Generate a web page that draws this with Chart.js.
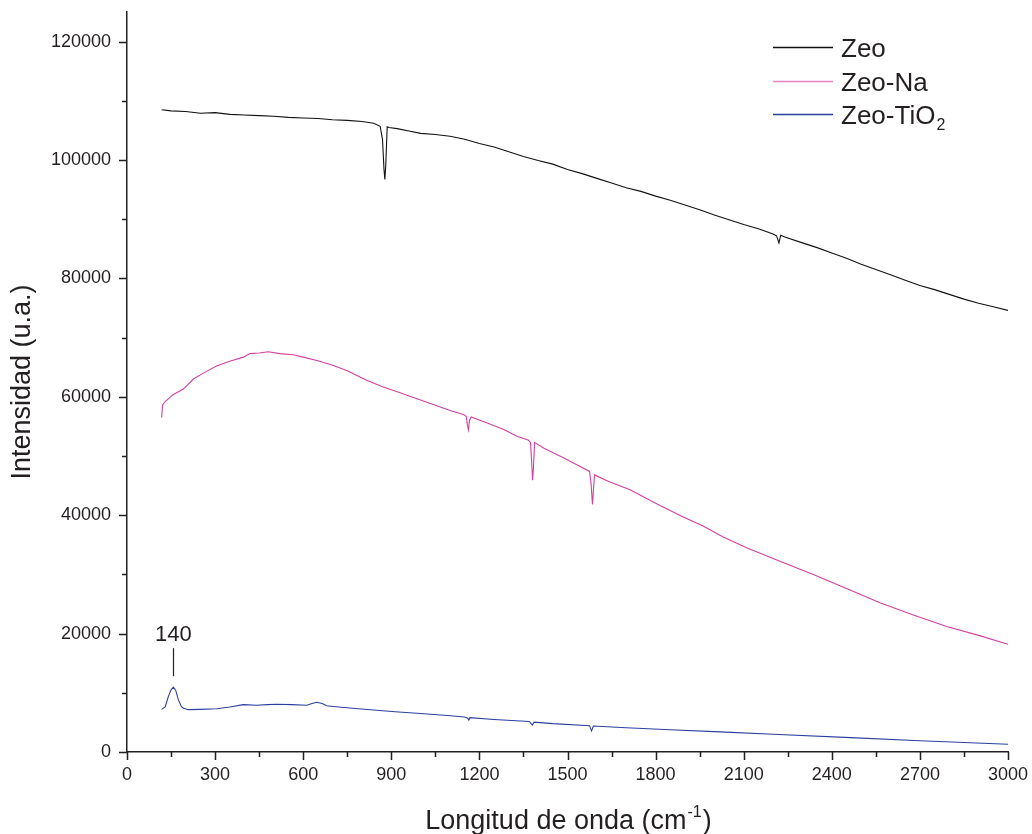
<!DOCTYPE html>
<html>
<head>
<meta charset="utf-8">
<script src="https://cdn.jsdelivr.net/npm/chart.js@4.4.1/dist/chart.umd.min.js"></script>
<style>
  html, body { margin: 0; padding: 0; background: #fff; }
  #wrap { width: 1032px; height: 834px; }
</style>
</head>
<body>
<div id="wrap"><canvas id="myChart" width="1032" height="834"></canvas></div>
<script>
// wavenumbers (cm-1) and intensities
var zeoX = [118, 150, 200, 250, 300, 350, 400, 450, 500, 550, 600, 650, 700, 750, 800, 840, 862, 870, 875, 878, 881, 886, 892, 920, 960, 1000, 1050, 1100, 1150, 1200, 1250, 1300, 1350, 1400, 1450, 1500, 1550, 1600, 1650, 1700, 1750, 1800, 1850, 1900, 1950, 2000, 2050, 2100, 2150, 2200, 2212, 2220, 2226, 2240, 2300, 2350, 2400, 2450, 2500, 2550, 2600, 2650, 2700, 2750, 2800, 2850, 2900, 2950, 3000];
var zeoY = [108500, 108300, 108200, 107900, 108000, 107700, 107600, 107500, 107400, 107200, 107100, 107000, 106800, 106700, 106500, 106200, 105700, 103500, 98500, 96700, 99000, 105600, 105500, 105300, 104900, 104500, 104300, 104000, 103500, 102800, 102200, 101400, 100600, 99900, 99300, 98400, 97700, 96900, 96100, 95300, 94700, 93900, 93200, 92400, 91600, 90700, 89900, 89100, 88400, 87500, 87200, 86000, 87300, 87000, 86000, 85200, 84300, 83400, 82400, 81500, 80600, 79700, 78800, 78100, 77300, 76500, 75800, 75200, 74600];

var naX = [118, 121, 130, 158, 192, 226, 260, 305, 350, 396, 419, 450, 481, 520, 566, 600, 650, 703, 750, 816, 870, 930, 980, 1043, 1100, 1145, 1155, 1160, 1163, 1166, 1172, 1220, 1281, 1330, 1366, 1374, 1378, 1381, 1384, 1388, 1420, 1486, 1540, 1575, 1580, 1585, 1588, 1592, 1640, 1713, 1800, 1894, 1960, 2030, 2110, 2200, 2337, 2450, 2564, 2680, 2791, 2900, 3000];
var naY = [56500, 58600, 59200, 60400, 61300, 63000, 64000, 65200, 66000, 66700, 67300, 67400, 67600, 67300, 67100, 66700, 66100, 65300, 64400, 62800, 61700, 60700, 59800, 58700, 57700, 57000, 56700, 55000, 54400, 56000, 56600, 55700, 54500, 53300, 52700, 52300, 49000, 45900, 48000, 52300, 51300, 49700, 48300, 47400, 45500, 41800, 44000, 46800, 45700, 44300, 42000, 39700, 38200, 36300, 34500, 32700, 30000, 27600, 25200, 23100, 21200, 19700, 18200];

var tiX = [118, 130, 141, 150, 158, 166, 175, 185, 192, 209, 250, 305, 350, 396, 441, 480, 510, 560, 612, 630, 646, 665, 680, 720, 788, 850, 913, 1000, 1080, 1150, 1160, 1164, 1168, 1250, 1370, 1380, 1386, 1450, 1575, 1582, 1588, 1700, 1850, 2020, 2200, 2464, 2700, 2850, 3000];
var tiY = [7200, 7600, 9400, 10500, 10950, 10400, 8800, 7700, 7400, 7150, 7200, 7300, 7600, 8000, 7900, 8000, 8070, 8000, 7900, 8200, 8400, 8200, 7800, 7600, 7300, 7050, 6800, 6500, 6200, 5900, 5700, 5400, 5800, 5500, 5150, 4550, 5050, 4800, 4450, 3550, 4400, 4100, 3750, 3400, 3000, 2430, 1900, 1600, 1300];

var seriesNames = ['Zeo', 'Zeo-Na', 'Zeo-TiO'];
var seriesColors = ['#111111', '#d2409e', '#2b3f9e'];
var legendColors = ['#111111', '#e583c2', '#2b3f9e'];

var peakLabel = '140';
var peakX = 158, peakY = 10950;

var xMax = 3000, xMajor = 300, xMinor = 150;
var yMax = 125000, yTop = 120000, yMajor = 20000, yMinor = 10000;

var inkColor = '#231f20';
var fontFam = '"Liberation Sans", Arial, sans-serif';

function pts(xs, ys) {
  return xs.map(function (x, i) { return { x: x, y: ys[i] }; });
}

function stepTicks(max, step) {
  var t = [];
  for (var v = 0; v <= max; v += step) t.push({ value: v });
  return t;
}

// outward tick marks: long for labelled ticks, short for minor ones
var tickMarks = {
  id: 'tickMarks',
  afterDraw: function (chart) {
    var c = chart.ctx, xs = chart.scales.x, ys = chart.scales.y;
    var area = chart.chartArea;
    c.save();
    c.strokeStyle = inkColor;
    c.lineWidth = 1.5;
    c.beginPath();
    xs.ticks.forEach(function (t) {
      var px = Math.round(xs.getPixelForValue(t.value)) + 0.5;
      var len = t.value % xMajor === 0 ? 8 : 5;
      c.moveTo(px, area.bottom);
      c.lineTo(px, area.bottom + len);
    });
    ys.ticks.forEach(function (t) {
      var py = Math.round(ys.getPixelForValue(t.value)) + 0.5;
      var len = t.value % yMajor === 0 ? 8 : 5;
      c.moveTo(area.left, py);
      c.lineTo(area.left - len, py);
    });
    c.stroke();
    c.restore();
  }
};

// legend, peak label and x title (need sub/superscripts)
var extras = {
  id: 'extras',
  afterDraw: function (chart) {
    var c = chart.ctx, xs = chart.scales.x, ys = chart.scales.y;
    c.save();
    c.fillStyle = inkColor;
    c.textBaseline = 'alphabetic';

    // legend
    var rowY = [47, 81, 114];
    for (var i = 0; i < seriesNames.length; i++) {
      c.strokeStyle = legendColors[i];
      c.lineWidth = 1.3;
      c.beginPath();
      c.moveTo(773, rowY[i] + 0.5);
      c.lineTo(833, rowY[i] + 0.5);
      c.stroke();
      c.font = '26px ' + fontFam;
      c.textAlign = 'left';
      c.fillText(seriesNames[i], 841, rowY[i] + 9.5);
      if (i === 2) {
        var w = c.measureText(seriesNames[i]).width;
        c.font = '16px ' + fontFam;
        c.fillText('2', 841 + w + 1, rowY[i] + 16);
      }
    }

    // peak annotation
    var px = xs.getPixelForValue(peakX);
    var py = ys.getPixelForValue(peakY);
    c.strokeStyle = inkColor;
    c.lineWidth = 1.2;
    c.beginPath();
    c.moveTo(Math.round(px) + 0.5, py - 11);
    c.lineTo(Math.round(px) + 0.5, py - 39);
    c.stroke();
    c.font = '22px ' + fontFam;
    c.textAlign = 'center';
    c.fillText(peakLabel, px, py - 46);

    // x axis title with superscript
    var main = 'Longitud de onda (cm';
    var sup = '-1';
    var tail = ')';
    c.font = '27px ' + fontFam;
    var w1 = c.measureText(main).width;
    var w3 = c.measureText(tail).width;
    c.font = '16px ' + fontFam;
    var w2 = c.measureText(sup).width;
    var x0 = (chart.chartArea.left + chart.chartArea.right) / 2 - (w1 + w2 + w3) / 2;
    var by = 829;
    c.textAlign = 'left';
    c.font = '27px ' + fontFam;
    c.fillText(main, x0, by);
    c.font = '16px ' + fontFam;
    c.fillText(sup, x0 + w1 + 1, by - 12);
    c.font = '27px ' + fontFam;
    c.fillText(tail, x0 + w1 + w2 + 2, by);
    c.restore();
  }
};

var ctx = document.getElementById('myChart').getContext('2d');
var myChart = new Chart(ctx, {
  type: 'line',
  data: {
    datasets: [
      { label: seriesNames[0], data: pts(zeoX, zeoY), borderColor: seriesColors[0], borderWidth: 1.1, pointRadius: 0, tension: 0 },
      { label: seriesNames[1], data: pts(naX, naY), borderColor: seriesColors[1], borderWidth: 1.1, pointRadius: 0, tension: 0 },
      { label: seriesNames[2] + '2', data: pts(tiX, tiY), borderColor: seriesColors[2], borderWidth: 1.1, pointRadius: 0, tension: 0 }
    ]
  },
  options: {
    responsive: false,
    animation: false,
    layout: { padding: { top: 12, right: 24, left: 0, bottom: 0 } },
    plugins: {
      legend: { display: false },
      tooltip: { enabled: false }
    },
    scales: {
      x: {
        type: 'linear',
        min: 0,
        max: xMax,
        afterBuildTicks: function (s) { s.ticks = stepTicks(xMax, xMinor); },
        afterFit: function (s) { s.height = 82; s.paddingLeft = 0; s.paddingRight = 0; },
        grid: { display: false, drawTicks: false },
        border: { display: true, color: inkColor, width: 1.5 },
        ticks: {
          autoSkip: false,
          maxRotation: 0,
          padding: 12,
          color: inkColor,
          font: { family: fontFam, size: 18 },
          callback: function (v) { return v % xMajor === 0 ? String(v) : ''; }
        }
      },
      y: {
        type: 'linear',
        min: 0,
        max: yMax,
        afterBuildTicks: function (s) { s.ticks = stepTicks(yTop, yMinor); },
        afterFit: function (s) { s.width = 127; s.paddingTop = 0; s.paddingBottom = 0; },
        grid: { display: false, drawTicks: false },
        border: { display: true, color: inkColor, width: 1.5 },
        title: {
          display: true,
          text: 'Intensidad (u.a.)',
          color: inkColor,
          font: { family: fontFam, size: 27 },
          padding: { top: 6, bottom: 0 }
        },
        ticks: {
          autoSkip: false,
          padding: 16,
          color: inkColor,
          font: { family: fontFam, size: 18 },
          callback: function (v) { return v % yMajor === 0 ? String(v) : ''; }
        }
      }
    }
  },
  plugins: [tickMarks, extras]
});
</script>
</body>
</html>
